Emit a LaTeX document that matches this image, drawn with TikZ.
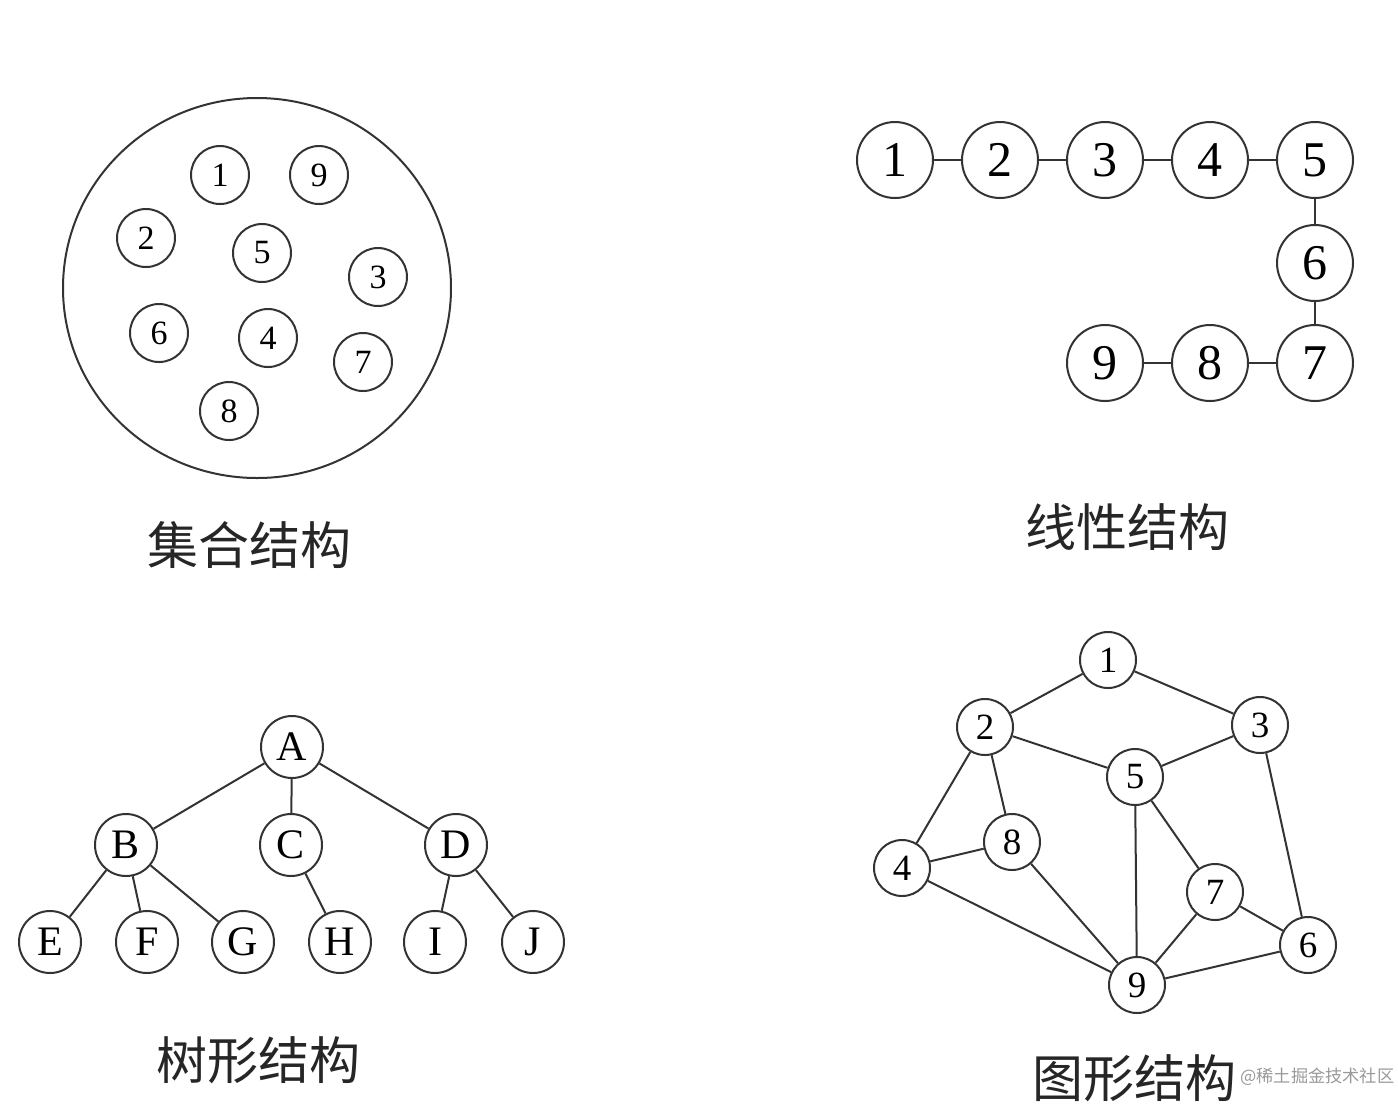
\documentclass[tikz,border=0pt]{standalone}
\usepackage{fontspec}
\usetikzlibrary{shapes.geometric}
\setmainfont{Liberation Serif}
\newfontfamily\cjk{Noto Sans CJK SC}
\begin{document}
\begin{tikzpicture}[x=0.5pt,y=-0.5pt,
  ln/.style={line width=1pt,draw=black!80},
  setc/.style={circle,ln,inner sep=0pt,minimum size=29pt,font=\fontsize{17}{17}\selectfont},
  linc/.style={circle,ln,inner sep=0pt,minimum size=38pt,font=\fontsize{25}{25}\selectfont},
  treec/.style={circle,ln,inner sep=0pt,minimum size=31pt,font=\fontsize{21}{21}\selectfont},
  grc/.style={circle,ln,inner sep=0pt,minimum size=28pt,font=\fontsize{18.5}{18.5}\selectfont},
  captext/.style={font=\cjk\fontsize{25.5}{25.5}\selectfont,text=black!85},
  link/.style={ln}]
\useasboundingbox (0,0) rectangle (1398,1116);
% ---- set structure
\node[ellipse,ln,minimum width=194pt,minimum height=190pt,inner sep=0pt] (big) at (257,288) {};
\node[setc] (s1) at (220,175) {1};
\node[setc] (s9) at (319,175) {9};
\node[setc] (s2) at (146,238) {2};
\node[setc] (s5) at (262,253) {5};
\node[setc] (s3) at (378,277) {3};
\node[setc] (s6) at (159,333) {6};
\node[setc] (s4) at (268,338) {4};
\node[setc] (s7) at (363,362) {7};
\node[setc] (s8) at (229,411) {8};
\node[captext] (capset) at (249,545) {集合结构};
% ---- linear structure
\node[linc] (l1) at (895,160) {1};
\node[linc] (l2) at (1000,160) {2};
\node[linc] (l3) at (1105,160) {3};
\node[linc] (l4) at (1210,160) {4};
\node[linc] (l5) at (1315,160) {5};
\node[linc] (l6) at (1315,263) {6};
\node[linc] (l7) at (1315,363) {7};
\node[linc] (l8) at (1210,363) {8};
\node[linc] (l9) at (1105,363) {9};
\foreach \a/\b in {l1/l2,l2/l3,l3/l4,l4/l5,l5/l6,l6/l7,l7/l8,l8/l9}
  \draw[link] (\a) -- (\b);
\node[captext] (caplin) at (1127,527) {线性结构};
% ---- tree structure
\node[treec] (A) at (292,747) {A};
\node[treec] (B) at (126,845) {B};
\node[treec] (C) at (291,845) {C};
\node[treec] (D) at (456,845) {D};
\node[treec] (E) at (50,942) {E};
\node[treec] (F) at (147,942) {F};
\node[treec] (G) at (243,942) {G};
\node[treec] (H) at (340,942) {H};
\node[treec] (I) at (435,942) {I};
\node[treec] (J) at (533,942) {J};
\foreach \a/\b in {A/B,A/C,A/D,B/E,B/F,B/G,C/H,D/I,D/J}
  \draw[link] (\a) -- (\b);
\node[captext] (captree) at (258,1060) {树形结构};
% ---- graph structure
\node[grc] (g1) at (1108,660) {1};
\node[grc] (g2) at (985,727) {2};
\node[grc] (g3) at (1260,725) {3};
\node[grc] (g5) at (1135,777) {5};
\node[grc] (g8) at (1012,842) {8};
\node[grc] (g4) at (902,868) {4};
\node[grc] (g7) at (1215,892) {7};
\node[grc] (g6) at (1308,945) {6};
\node[grc] (g9) at (1137,985) {9};
\foreach \a/\b in {g1/g2,g1/g3,g2/g5,g3/g5,g2/g4,g2/g8,g4/g8,g4/g9,g8/g9,g5/g9,g5/g7,g7/g9,g7/g6,g3/g6,g9/g6}
  \draw[link] (\a) -- (\b);
\node[captext] (capgr) at (1134,1078) {图形结构};
% ---- watermark
\node[font=\cjk\fontsize{8.6}{8.6}\selectfont,text=black!40,anchor=west,inner sep=0pt] (wm) at (1240,1077) {@稀土掘金技术社区};
\end{tikzpicture}
\end{document}
